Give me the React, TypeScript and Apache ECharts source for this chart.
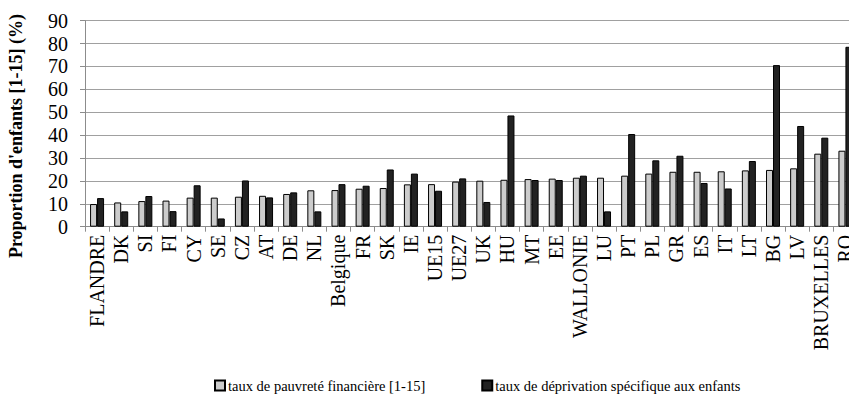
import React, { useEffect, useRef } from "react";
import * as echarts from "echarts";

const categories = [
  "FLANDRE", "DK", "SI", "FI", "CY", "SE", "CZ", "AT", "DE", "NL", "Belgique", "FR", "SK", "IE",
  "UE15", "UE27", "UK", "HU", "MT", "EE", "WALLONIE", "LU", "PT", "PL", "GR", "ES", "IT", "LT",
  "BG", "LV", "BRUXELLES", "RO",
];
const poverty = [
  9.9, 10.6, 11.2, 11.4, 12.7, 12.7, 13.1, 13.5, 14.3, 15.9, 16.0, 16.6, 16.9, 18.5, 18.6, 19.7,
  20.1, 20.5, 20.8, 21.0, 21.4, 21.4, 22.3, 23.2, 24.0, 24.0, 24.2, 24.6, 24.8, 25.5, 31.9, 33.2,
];
const deprivation = [
  12.5, 6.7, 13.4, 6.8, 18.1, 3.6, 20.2, 12.8, 15.0, 6.7, 18.6, 17.9, 25.0, 23.2, 15.7, 21.1,
  10.8, 48.6, 20.4, 20.4, 22.3, 6.7, 40.5, 29.0, 31.0, 19.1, 16.7, 28.7, 70.6, 44.0, 38.9, 78.6,
];
const seriesNames = ["taux de pauvreté financière [1-15]", "taux de déprivation spécifique aux enfants"];
const yTitle = "Proportion d'enfants [1-15] (%)";

const FONT = "'Liberation Serif', 'Times New Roman', serif";

export default function App() {
  const ref = useRef<HTMLDivElement>(null);
  useEffect(() => {
    if (!ref.current) return;
    const chart = echarts.init(ref.current, undefined, { renderer: "svg" });
    chart.setOption({
      animation: false,
      backgroundColor: "#ffffff",
      textStyle: { fontFamily: FONT },
      grid: {
        left: 85,
        top: 20.7,
        bottom: 187.3,
        right: -8.5,
        containLabel: false,
        outerBoundsMode: "none",
      },
      graphic: [
        {
          type: "text",
          x: 16,
          y: 136,
          rotation: Math.PI / 2,
          style: {
            text: yTitle,
            fontFamily: FONT,
            fontSize: 18,
            fontWeight: "bold",
            fill: "#000",
            textAlign: "center",
            textVerticalAlign: "middle",
          },
        },
      ],
      legend: {
        left: 209,
        top: 373,
        itemWidth: 10,
        itemHeight: 10,
        itemGap: 56,
        icon: "rect",
        textStyle: { fontFamily: FONT, fontSize: 14.5, color: "#000", padding: [0, 0, 0, -2] },
        data: seriesNames,
      },
      xAxis: {
        type: "category",
        data: categories,
        axisLine: { lineStyle: { color: "#8c8c8c", width: 1 } },
        axisTick: { show: true, length: 5, lineStyle: { color: "#8c8c8c" } },
        axisLabel: {
          interval: 0,
          rotate: 90,
          margin: 8,
          fontFamily: FONT,
          fontSize: 20,
          color: "#000",
        },
      },
      yAxis: {
        type: "value",
        min: 0,
        max: 90,
        interval: 10,
        axisLine: { show: true, lineStyle: { color: "#8c8c8c", width: 1 } },
        axisTick: { show: true, length: 5, lineStyle: { color: "#8c8c8c" } },
        axisLabel: { margin: 17, fontFamily: FONT, fontSize: 20, color: "#000" },
        splitLine: { show: true, lineStyle: { color: "#a0a0a0", width: 1.2 } },
      },
      series: [
        {
          name: seriesNames[0],
          type: "bar",
          data: poverty,
          barGap: "0%",
          barCategoryGap: "42%",
          itemStyle: { color: "#cccccc", borderColor: "#000", borderWidth: 1 },
        },
        {
          name: seriesNames[1],
          type: "bar",
          data: deprivation,
          barGap: "0%",
          barCategoryGap: "42%",
          itemStyle: { color: "#222222", borderColor: "#000", borderWidth: 1 },
        },
      ],
    });
    return () => chart.dispose();
  }, []);
  return (
    <div
      ref={ref}
      style={{ position: "fixed", left: 0, top: 0, width: 849, height: 414, overflow: "hidden" }}
    />
  );
}
